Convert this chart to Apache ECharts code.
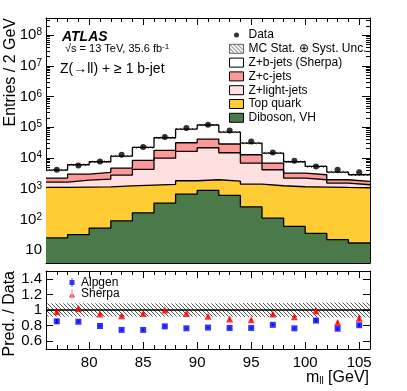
<!DOCTYPE html>
<html>
<head>
<meta charset="utf-8">
<script src="https://cdn.jsdelivr.net/npm/echarts@6/dist/echarts.min.js"></script>
<style>html,body{margin:0;padding:0;background:#fff}#chart{width:407px;height:391px}</style>
</head>
<body>
<div id="chart"></div>
<script>
// bin centres in GeV, bins are 2 GeV wide
var massBins = [77, 79, 81, 83, 85, 87, 89, 91, 93, 95, 97, 99, 101, 103, 105];
var binWidth = 2;

// MC contributions per bin (stacked bottom -> top)
var diboson  = [25, 32, 52, 90, 164, 340, 667, 873, 601, 257, 110, 59, 35, 22, 17];
var topQuark = [1070, 1095, 1100, 1150, 1145, 1030, 1140, 1077, 1170, 1156, 1132, 1095, 1093, 1072, 1052];
var zLight   = [545, 777, 900, 1530, 2910, 8560, 14490, 19550, 12990, 5410, 2890, 1056, 822, 426, 271];
var zC       = [570, 1085, 1320, 1920, 4080, 7610, 14960, 19800, 13640, 5880, 2690, 1010, 890, 430, 378];
var zB       = [1830, 3020, 4150, 6840, 13670, 27960, 56040, 76700, 41400, 17850, 7630, 4300, 2440, 1525, 1122];
var dataCounts = [4130, 5700, 7690, 12700, 22640, 47960, 94200, 120600, 78700, 34400, 15100, 8110, 5280, 4130, 3420];

// relative MC uncertainty (hatched band)
var mcUnc = [0.085, 0.085, 0.085, 0.085, 0.085, 0.085, 0.085, 0.085, 0.085, 0.09, 0.09, 0.09, 0.095, 0.095, 0.095];

// ratio panel
var alpgenRatio = [0.855, 0.85, 0.795, 0.745, 0.745, 0.79, 0.765, 0.775, 0.77, 0.77, 0.81, 0.765, 0.865, 0.76, 0.805];
var alpgenErr   = [0.03, 0.015, 0.01, 0.01, 0.01, 0.01, 0.01, 0.01, 0.01, 0.01, 0.01, 0.01, 0.03, 0.015, 0.02];
var sherpaRatio = [0.98, 1.02, 0.95, 0.925, 0.955, 1.0, 0.955, 0.92, 0.885, 0.875, 0.95, 0.915, 0.99, 0.84, 0.895];
var sherpaErr   = [0.04, 0.03, 0.02, 0.015, 0.015, 0.015, 0.015, 0.015, 0.015, 0.015, 0.02, 0.02, 0.04, 0.025, 0.035];

// tick labels
var xLabels = [80, 85, 90, 95, 100, 105];
var logLabels = [10, 1e2, 1e3, 1e4, 1e5, 1e6, 1e7, 1e8];
var ratioLabels = [0.6, 0.8, 1, 1.2, 1.4];

var FONT = "'Liberation Sans', Arial, Helvetica, sans-serif";
var X_MIN = 76, X_MAX = 106, Y_MIN = 3.8, Y_MAX = 3.6e8;

var xMinor = [];
for (var m = X_MIN + 1; m < X_MAX; m++) { if (m % 5 !== 0) xMinor.push(m); }
var logMinor = [];
for (var e = 0; e <= 8; e++) {
    for (var k = 2; k <= 9; k++) {
        var v = k * Math.pow(10, e);
        if (v > Y_MIN && v < Y_MAX) logMinor.push(v);
    }
}

// cumulative stack
function addArr(a, b) { return a.map(function (x, i) { return x + b[i]; }); }
var cumDib = diboson.slice();
var cumTop = addArr(cumDib, topQuark);
var cumLight = addArr(cumTop, zLight);
var cumC = addArr(cumLight, zC);
var cumB = addArr(cumC, zB);

function stepData(vals) {
    var pts = [];
    for (var i = 0; i < vals.length; i++) pts.push([massBins[i] - binWidth / 2, vals[i]]);
    pts.push([massBins[vals.length - 1] + binWidth / 2, vals[vals.length - 1]]);
    return pts;
}

function makeHatch() {
    var c = document.createElement('canvas');
    c.width = 4; c.height = 4;
    var g = c.getContext('2d');
    g.strokeStyle = '#555';
    g.lineWidth = 1;
    g.beginPath();
    g.moveTo(-1, -1); g.lineTo(5, 5);
    g.moveTo(-1, 3); g.lineTo(1, 5);
    g.moveTo(3, -1); g.lineTo(5, 1);
    g.stroke();
    return c;
}
var hatch = { image: makeHatch(), repeat: 'repeat' };

function xAx(grid, pos, ticks, len, line, labels) {
    return {
        type: 'value', gridIndex: grid, position: pos, min: X_MIN, max: X_MAX,
        axisLine: { show: line, onZero: false, lineStyle: { color: '#000', width: 1 } },
        axisTick: { show: true, inside: true, length: len, customValues: ticks, lineStyle: { color: '#000', width: 1 } },
        axisLabel: { show: !!labels, customValues: ticks, margin: 6, fontSize: 15, color: '#000', fontFamily: FONT },
        splitLine: { show: false }
    };
}

function yLog(pos, ticks, len, line, labels) {
    return {
        type: 'log', logBase: 10, gridIndex: 0, position: pos, min: Y_MIN, max: Y_MAX,
        axisLine: { show: line, onZero: false, lineStyle: { color: '#000', width: 1 } },
        axisTick: { show: true, inside: true, length: len, customValues: ticks, lineStyle: { color: '#000', width: 1 } },
        axisLabel: {
            show: !!labels, customValues: ticks, margin: 4, fontSize: 15, color: '#000', fontFamily: FONT,
            formatter: function (v) {
                var p = Math.round(Math.log10(v));
                return p === 1 ? '10' : '10{s|' + p + '}';
            },
            rich: { s: { fontSize: 10, verticalAlign: 'top', lineHeight: 10, color: '#000', fontFamily: FONT } }
        },
        splitLine: { show: false }, minorSplitLine: { show: false }
    };
}

function yRatio(pos, labels) {
    return {
        type: 'value', gridIndex: 1, position: pos, min: 0.5, max: 1.5,
        axisLine: { show: true, onZero: false, lineStyle: { color: '#000', width: 1 } },
        axisTick: { show: true, inside: true, length: 7, customValues: ratioLabels, lineStyle: { color: '#000', width: 1 } },
        axisLabel: { show: !!labels, customValues: ratioLabels, margin: 4, fontSize: 15, color: '#000', fontFamily: FONT },
        splitLine: { show: false }
    };
}

function histLayer(name, vals, fill) {
    return {
        name: name, type: 'line', xAxisIndex: 0, yAxisIndex: 0, step: 'end',
        data: stepData(vals), symbol: 'none', showSymbol: false, silent: true,
        lineStyle: { color: '#000', width: 1.3 },
        itemStyle: { color: fill },
        areaStyle: { color: fill, opacity: 1, origin: 'start' }
    };
}

function bandItem(params, api) {
    var x = api.value(0);
    var p0 = api.coord([x - binWidth / 2, api.value(2)]);
    var p1 = api.coord([x + binWidth / 2, api.value(1)]);
    return {
        type: 'rect',
        shape: { x: p0[0], y: p0[1], width: p1[0] - p0[0], height: p1[1] - p0[1] },
        style: { fill: hatch, stroke: null }
    };
}

function errItem(color) {
    return function (params, api) {
        var x = api.value(0), v = api.value(1), e = api.value(2);
        var a = api.coord([x, v - e]), b = api.coord([x, v + e]);
        return { type: 'line', shape: { x1: a[0], y1: a[1], x2: b[0], y2: b[1] }, style: { stroke: color, lineWidth: 1.6 } };
    };
}

var mainBand = massBins.map(function (m, i) { return [m, cumB[i] * (1 - mcUnc[i]), cumB[i] * (1 + mcUnc[i])]; });
var ratioBand = massBins.map(function (m, i) { return [m, 1 - mcUnc[i], 1 + mcUnc[i]]; });
var dataPts = massBins.map(function (m, i) { return [m, dataCounts[i]]; });
var alpPts = massBins.map(function (m, i) { return [m, alpgenRatio[i], alpgenErr[i]]; });
var sherPts = massBins.map(function (m, i) { return [m, sherpaRatio[i], sherpaErr[i]]; });

var MC_NAME = 'MC Stat. \u2295 Syst. Unc.';
var SPECK = 'M0,0L0.01,0L0,0.01Z';

var myChart = echarts.init(document.getElementById('chart'));
var option = {
    backgroundColor: '#fff',
    animation: false,
    grid: [
        { left: 46, top: 18, width: 324, height: 245 },
        { left: 46, top: 271, width: 324, height: 78 }
    ],
    xAxis: [
        xAx(0, 'bottom', xLabels, 7, true, false),
        xAx(0, 'bottom', xMinor, 4, false, false),
        xAx(0, 'top', xLabels, 7, true, false),
        xAx(0, 'top', xMinor, 4, false, false),
        xAx(1, 'bottom', xLabels, 7, true, true),
        xAx(1, 'bottom', xMinor, 4, false, false),
        xAx(1, 'top', xLabels, 7, true, false),
        xAx(1, 'top', xMinor, 4, false, false)
    ],
    yAxis: [
        yLog('left', logLabels, 8, true, true),
        yLog('left', logMinor, 4, false, false),
        yLog('right', logLabels, 8, true, false),
        yLog('right', logMinor, 4, false, false),
        yRatio('left', true),
        yRatio('right', false)
    ],
    legend: [
        {
            orient: 'vertical', left: 224, top: 24, itemWidth: 14, itemHeight: 9, itemGap: 1.8,
            selectedMode: false,
            textStyle: { fontSize: 12, color: '#000', fontFamily: FONT },
            data: [
                { name: 'Data', icon: 'path://' + SPECK + 'M14,9L13.99,9L14,8.99Z M4.5,4.5A2.5,2.5 0 1 1 9.5,4.5A2.5,2.5 0 1 1 4.5,4.5Z',
                  itemStyle: { color: '#000', borderWidth: 0 } },
                { name: MC_NAME, icon: 'rect', itemStyle: { color: hatch, borderColor: '#666', borderWidth: 1 } },
                { name: 'Z+b-jets (Sherpa)', icon: 'rect', itemStyle: { color: '#fff', borderColor: '#000', borderWidth: 1 } },
                { name: 'Z+c-jets', icon: 'rect', itemStyle: { color: '#ff9999', borderColor: '#000', borderWidth: 1 } },
                { name: 'Z+light-jets', icon: 'rect', itemStyle: { color: '#ffdfdf', borderColor: '#000', borderWidth: 1 } },
                { name: 'Top quark', icon: 'rect', itemStyle: { color: '#ffcc33', borderColor: '#000', borderWidth: 1 } },
                { name: 'Diboson, VH', icon: 'rect', itemStyle: { color: '#4a7a4a', borderColor: '#000', borderWidth: 1 } }
            ]
        },
        {
            orient: 'vertical', left: 63, top: 271.5, itemWidth: 8, itemHeight: 9, itemGap: -0.5,
            selectedMode: false,
            textStyle: { fontSize: 12, color: '#000', fontFamily: FONT },
            data: [
                { name: 'Alpgen', icon: 'path://' + SPECK + 'M8,9L7.99,9L8,8.99Z M1.5,2H6.5V7H1.5Z M3.6,0H4.4V9H3.6Z',
                  itemStyle: { color: '#0000ff', borderWidth: 0 } },
                { name: 'Sherpa', icon: 'path://' + SPECK + 'M8,9L7.99,9L8,8.99Z M1,8H7L4,2Z M3.6,0H4.4V9H3.6Z',
                  itemStyle: { color: '#ff0000', borderWidth: 0 } }
            ]
        }
    ],
    series: [
        histLayer('Z+b-jets (Sherpa)', cumB, '#ffffff'),
        histLayer('Z+c-jets', cumC, '#ff9999'),
        histLayer('Z+light-jets', cumLight, '#ffdfdf'),
        histLayer('Top quark', cumTop, '#ffcc33'),
        histLayer('Diboson, VH', cumDib, '#4a7a4a'),
        {
            name: MC_NAME, type: 'custom', xAxisIndex: 0, yAxisIndex: 0, silent: true, clip: true,
            itemStyle: { color: hatch }, encode: { x: 0, y: [1, 2] },
            renderItem: bandItem, data: mainBand, z: 3
        },
        {
            name: 'Data', type: 'scatter', xAxisIndex: 0, yAxisIndex: 0, symbol: 'circle', symbolSize: 6,
            itemStyle: { color: '#000' }, data: dataPts, z: 5, silent: true
        },
        {
            name: MC_NAME, type: 'custom', xAxisIndex: 4, yAxisIndex: 4, silent: true, clip: true,
            itemStyle: { color: hatch }, encode: { x: 0, y: [1, 2] },
            renderItem: bandItem, data: ratioBand, z: 2,
            markLine: {
                silent: true, symbol: ['none', 'none'], label: { show: false },
                lineStyle: { color: '#000', width: 1.5, type: 'solid' },
                data: [{ yAxis: 1 }]
            }
        },
        {
            name: 'alpgenErr', type: 'custom', xAxisIndex: 4, yAxisIndex: 4, silent: true,
            encode: { x: 0, y: 1 }, renderItem: errItem('#0000ff'), data: alpPts, z: 4
        },
        {
            name: 'sherpaErr', type: 'custom', xAxisIndex: 4, yAxisIndex: 4, silent: true,
            encode: { x: 0, y: 1 }, renderItem: errItem('#ff0000'), data: sherPts, z: 4
        },
        {
            name: 'Alpgen', type: 'scatter', xAxisIndex: 4, yAxisIndex: 4, symbol: 'rect', symbolSize: 6,
            itemStyle: { color: '#0000ff' }, data: alpPts.map(function (p) { return [p[0], p[1]]; }), z: 5, silent: true
        },
        {
            name: 'Sherpa', type: 'scatter', xAxisIndex: 4, yAxisIndex: 4, symbol: 'triangle', symbolSize: 7,
            itemStyle: { color: '#ff0000' }, data: sherPts.map(function (p) { return [p[0], p[1]]; }), z: 5, silent: true
        }
    ],
    graphic: [
        { type: 'text', left: 62, top: 30, style: { text: 'ATLAS', fontSize: 14, fontWeight: 'bold', fontStyle: 'italic', fontFamily: FONT, fill: '#000' } },
        { type: 'text', left: 65, top: 43, style: { text: '\u221As = 13 TeV, 35.6 fb{s|-1}', fontSize: 11, fontFamily: FONT, fill: '#000',
            rich: { s: { fontSize: 8, verticalAlign: 'top', lineHeight: 8, fontFamily: FONT, fill: '#000' } } } },
        { type: 'text', left: 60, top: 62, style: { text: 'Z(\u2192ll) + \u2265 1 b-jet', fontSize: 14, fontFamily: FONT, fill: '#000' } },
        { type: 'text', x: 11, y: 18, rotation: Math.PI / 2,
          style: { text: 'Entries / 2 GeV', fontSize: 16, fontFamily: FONT, fill: '#000', align: 'right', verticalAlign: 'middle' } },
        { type: 'text', x: 10, y: 271, rotation: Math.PI / 2,
          style: { text: 'Pred. / Data', fontSize: 16, fontFamily: FONT, fill: '#000', align: 'right', verticalAlign: 'middle' } },
        { type: 'text', x: 369, y: 378,
          style: { text: 'm{s|ll} [GeV]', fontSize: 16, fontFamily: FONT, fill: '#000', align: 'right', verticalAlign: 'middle',
            rich: { s: { fontSize: 10, verticalAlign: 'bottom', lineHeight: 10, fontFamily: FONT, fill: '#000' } } } }
    ]
};
myChart.setOption(option);
</script>
</body>
</html>
